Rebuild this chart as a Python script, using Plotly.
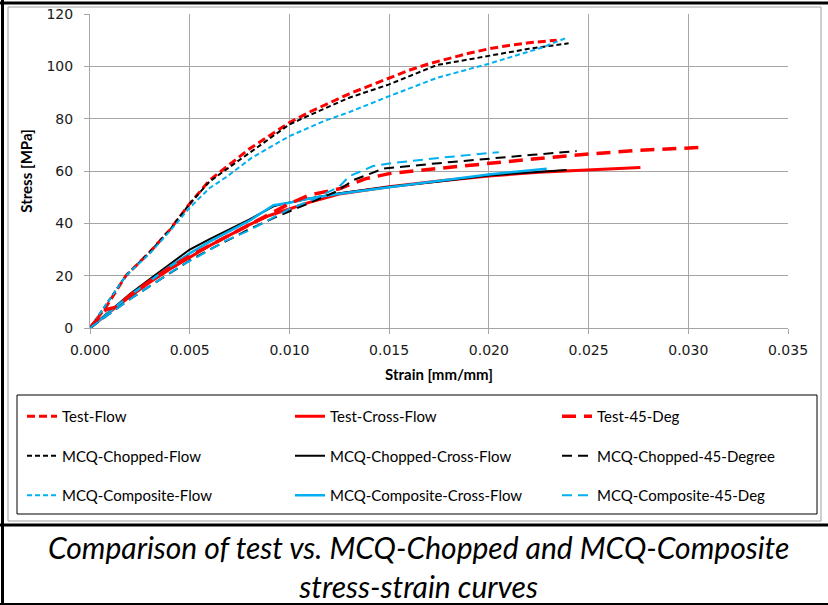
import plotly.graph_objects as go

# ---------------- data ----------------
test_flow_strain = [0, 0.0008, 0.0018, 0.003, 0.004, 0.005, 0.006, 0.007, 0.008, 0.009, 0.010, 0.011,
                    0.012, 0.013, 0.014, 0.015, 0.016, 0.017, 0.018, 0.019, 0.020, 0.021, 0.022, 0.0234]
test_flow_stress = [0, 8, 20, 29, 37.5, 47.5, 56.5, 62.5, 68.5, 73.5, 78.5, 82.5,
                    86, 89.5, 92.5, 95.5, 98.5, 101, 103, 105, 106.7, 108, 109, 110]

test_cross_strain = [0, 0.0008, 0.002, 0.003, 0.004, 0.005, 0.006, 0.007, 0.008, 0.009, 0.010, 0.011,
                     0.0125, 0.015, 0.0175, 0.020, 0.0225, 0.025, 0.0276]
test_cross_stress = [0, 5, 12, 17.5, 22.5, 27, 31.5, 35.5, 39.5, 43, 45.6, 48,
                     51.2, 54, 56.2, 58.1, 59.5, 60.5, 61.3]

test_45_strain = [0, 0.0008, 0.0013, 0.002, 0.003, 0.004, 0.005, 0.006, 0.007, 0.008, 0.009, 0.010, 0.011,
                  0.0125, 0.0138, 0.015, 0.0175, 0.020, 0.0225, 0.025, 0.0275, 0.0309]
test_45_stress = [0, 7, 8, 12.5, 18, 23, 27.5, 31.5, 35.5, 39.5, 43.5, 47.5, 50.8,
                  53.2, 57, 59, 61, 63, 64.8, 66.5, 67.9, 69.1]

mcq_chop_flow_strain = [0, 0.0018, 0.003, 0.004, 0.005, 0.006, 0.007, 0.008, 0.009, 0.010, 0.0115,
                        0.013, 0.015, 0.0174, 0.020, 0.022, 0.024]
mcq_chop_flow_stress = [0, 20, 29, 37.5, 47.5, 56, 61.5, 67, 72.5, 77.8, 83,
                        88, 93.1, 100.5, 104, 106.7, 108.8]

mcq_chop_cross_strain = [0, 0.001, 0.002, 0.003, 0.004, 0.005, 0.006, 0.007, 0.008, 0.0092, 0.010, 0.011,
                         0.0125, 0.015, 0.0175, 0.020, 0.0225, 0.0239]
mcq_chop_cross_stress = [0, 6.5, 13, 18.7, 24.3, 30, 34, 37.8, 41.5, 46.5, 48, 49.5,
                         51.5, 54, 56, 58.3, 59.8, 60.4]

mcq_chop_45_strain = [0, 0.001, 0.002, 0.003, 0.004, 0.005, 0.006, 0.007, 0.008, 0.0092, 0.010, 0.0112,
                      0.0124, 0.0132, 0.0147, 0.0175, 0.020, 0.0222, 0.0244]
mcq_chop_45_stress = [0, 5.5, 11, 16, 21, 25.8, 30, 34, 37.8, 42, 44.5, 48.5,
                      52.3, 56.5, 60.9, 63, 64.8, 66.2, 67.6]

mcq_comp_flow_strain = [0, 0.0018, 0.003, 0.004, 0.005, 0.006, 0.0068, 0.0081, 0.010, 0.0117, 0.013,
                        0.015, 0.0174, 0.020, 0.0226, 0.0239]
mcq_comp_flow_stress = [0, 20, 28.5, 37, 46, 53.5, 57.5, 65, 73.3, 79, 82.5,
                        88.6, 95.6, 101, 107, 110.9]

mcq_comp_cross_strain = [0, 0.001, 0.002, 0.003, 0.004, 0.005, 0.006, 0.007, 0.008, 0.0092, 0.010, 0.011,
                         0.0125, 0.015, 0.0175, 0.020, 0.0229]
mcq_comp_cross_stress = [0, 6.3, 12.5, 18, 23.5, 28.5, 33, 37, 41, 46.9, 47.9, 49.5,
                         51.3, 53.8, 56.2, 58.7, 60.9]

mcq_comp_45_strain = [0, 0.001, 0.002, 0.003, 0.004, 0.0045, 0.0057, 0.0067, 0.0079, 0.009, 0.010, 0.011,
                      0.0125, 0.013, 0.0142, 0.015, 0.0175, 0.0205]
mcq_comp_45_stress = [0, 5.5, 11, 16, 21, 23.5, 28.5, 33, 37, 41.5, 45.5, 48.5,
                      54, 58, 61.9, 62.9, 65, 67.2]

x_ticks = [0.000, 0.005, 0.010, 0.015, 0.020, 0.025, 0.030, 0.035]
y_ticks = [0, 20, 40, 60, 80, 100, 120]

RED = "#FF0000"
BLACK = "#000000"
CYAN = "#00B0F0"

series = [
    ("Test-Flow", test_flow_strain, test_flow_stress, RED, 3, "8px,4px", "legend"),
    ("MCQ-Chopped-Flow", mcq_chop_flow_strain, mcq_chop_flow_stress, BLACK, 2, "5px,3px", "legend"),
    ("MCQ-Composite-Flow", mcq_comp_flow_strain, mcq_comp_flow_stress, CYAN, 2, "5px,3px", "legend"),
    ("Test-Cross-Flow", test_cross_strain, test_cross_stress, RED, 3, "solid", "legend2"),
    ("MCQ-Chopped-Cross-Flow", mcq_chop_cross_strain, mcq_chop_cross_stress, BLACK, 2, "solid", "legend2"),
    ("MCQ-Composite-Cross-Flow", mcq_comp_cross_strain, mcq_comp_cross_stress, CYAN, 2.5, "solid", "legend2"),
    ("Test-45-Deg", test_45_strain, test_45_stress, RED, 3.5, "14px,8px", "legend3"),
    ("MCQ-Chopped-45-Degree", mcq_chop_45_strain, mcq_chop_45_stress, BLACK, 2, "10px,6px", "legend3"),
    ("MCQ-Composite-45-Deg", mcq_comp_45_strain, mcq_comp_45_stress, CYAN, 2, "10px,6px", "legend3"),
]

# ---------------- figure geometry ----------------
W, H = 828, 605
L, R, T, B = 90, 40, 14, 277
PW, PH = W - L - R, H - T - B


def px2x(px):
    return (px - L) / PW


def py2y(py):
    return (H - B - py) / PH


fig = go.Figure()
for name, xs, ys, col, w, dash, leg in series:
    fig.add_trace(go.Scatter(
        x=xs, y=ys, mode="lines", name=name,
        line=dict(color=col, width=w, dash=dash),
        legend=leg, legendgroup=name,
    ))

legend_font = dict(family="Lato, 'Open Sans', sans-serif", size=15, color="#000000")
leg_common = dict(orientation="v", tracegroupgap=17, bgcolor="rgba(0,0,0,0)",
                  font=legend_font, xanchor="left", yanchor="top",
                  borderwidth=0)

grid_col = "#A6A6A6"
tick_font = dict(family="DejaVu Sans, Verdana, sans-serif", size=14, color="#1A1A1A")

shapes = [
    # gray chart-area frame
    dict(type="rect", xref="paper", yref="paper", x0=px2x(8), x1=px2x(821), y0=py2y(521), y1=py2y(7),
         line=dict(color="#9E9E9E", width=1), layer="below"),
    # legend box
    dict(type="rect", xref="paper", yref="paper", x0=px2x(17), x1=px2x(817), y0=py2y(514), y1=py2y(395),
         line=dict(color="#000000", width=1), layer="below"),
    # outer black frame lines
    dict(type="line", xref="paper", yref="paper", x0=px2x(0), x1=px2x(830), y0=py2y(3), y1=py2y(3),
         line=dict(color="#000000", width=3)),
    dict(type="line", xref="paper", yref="paper", x0=px2x(2.5), x1=px2x(2.5), y0=py2y(0), y1=py2y(605),
         line=dict(color="#000000", width=3)),
    dict(type="line", xref="paper", yref="paper", x0=px2x(0), x1=px2x(830), y0=py2y(525), y1=py2y(525),
         line=dict(color="#000000", width=3)),
    dict(type="line", xref="paper", yref="paper", x0=px2x(0), x1=px2x(830), y0=py2y(604), y1=py2y(604),
         line=dict(color="#000000", width=2)),
]

fig.update_layout(
    width=W, height=H,
    margin=dict(l=L, r=R, t=T, b=B, autoexpand=False),
    paper_bgcolor="#FFFFFF", plot_bgcolor="#FFFFFF",
    showlegend=True,
    legend=dict(leg_common, x=px2x(22), y=py2y(400)),
    legend2=dict(leg_common, x=px2x(290), y=py2y(400)),
    legend3=dict(leg_common, x=px2x(557), y=py2y(400)),
    shapes=shapes,
    annotations=[
        dict(text="Comparison of test vs. MCQ-Chopped and MCQ-Composite<br>stress-strain curves",
             xref="paper", yref="paper", x=px2x(418), y=py2y(566), xanchor="center", yanchor="middle",
             showarrow=False, align="center",
             font=dict(family="Lato, 'Open Sans', sans-serif", size=30, color="#000000", style="italic")),
    ],
)

fig.update_xaxes(
    range=[0, 0.035], tickvals=x_ticks, tickformat=".3f",
    showgrid=True, gridcolor=grid_col, gridwidth=1,
    showline=True, linecolor=grid_col, linewidth=1,
    ticks="outside", ticklen=5, tickcolor=grid_col,
    tickfont=tick_font, zeroline=False, automargin=False, ticklabelstandoff=4,
    title=dict(text="<b>Strain [mm/mm]</b>", standoff=12,
               font=dict(family="Lato, 'Open Sans', sans-serif", size=15, color="#000000")),
)
fig.update_yaxes(
    range=[0, 120], tickvals=y_ticks,
    showgrid=True, gridcolor=grid_col, gridwidth=1,
    showline=True, linecolor=grid_col, linewidth=1,
    ticks="outside", ticklen=5, tickcolor=grid_col,
    tickfont=tick_font, zeroline=False, ticklabelstandoff=8, automargin=False,
    title=dict(text="<b>Stress [MPa]</b>", standoff=10,
               font=dict(family="Lato, 'Open Sans', sans-serif", size=15, color="#000000")),
)

fig.write_html("out.html", config={"displayModeBar": False},
               post_script="document.body.style.margin='0';")
